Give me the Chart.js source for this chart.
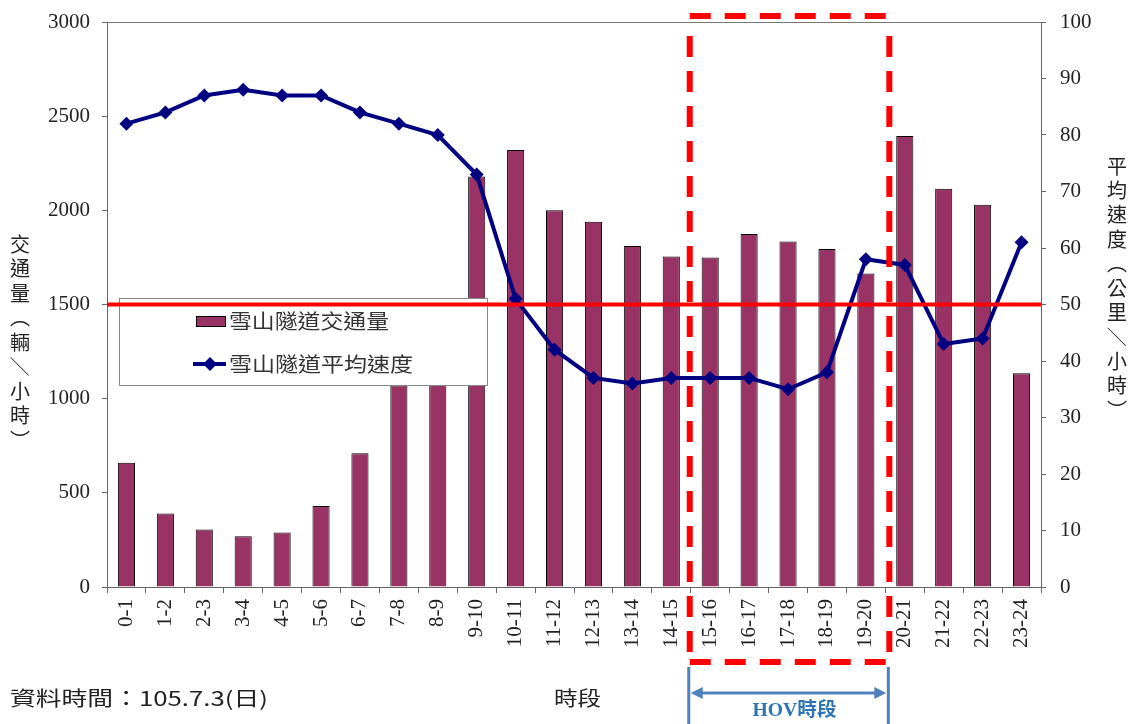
<!DOCTYPE html>
<html>
<head>
<meta charset="utf-8">
<script src="https://cdn.jsdelivr.net/npm/chart.js@4.4.1/dist/chart.umd.min.js"></script>
<style>
html,body{margin:0;padding:0;background:#fff;}
#wrap{width:1131px;height:724px;position:relative;}
</style>
</head>
<body>
<div id="wrap"><canvas id="c" width="1131" height="724"></canvas></div>
<script>
const categories = ['0-1','1-2','2-3','3-4','4-5','5-6','6-7','7-8','8-9','9-10','10-11','11-12','12-13','13-14','14-15','15-16','16-17','17-18','18-19','19-20','20-21','21-22','22-23','23-24'];
const trafficVolume = [660, 390, 305, 270, 290, 430, 710, 1070, 1450, 2180, 2320, 2000, 1940, 1810, 1755, 1750, 1875, 1835, 1795, 1665, 2395, 2115, 2030, 1135];
const avgSpeed = [82, 84, 87, 88, 87, 87, 84, 82, 80, 73, 51, 42, 37, 36, 37, 37, 37, 35, 38, 58, 57, 43, 44, 61];
const leftTicks = [0, 500, 1000, 1500, 2000, 2500, 3000];
const rightTicks = [0, 10, 20, 30, 40, 50, 60, 70, 80, 90, 100];
const volumeLabel = '雪山隧道交通量';
const speedLabel = '雪山隧道平均速度';
const leftTitle = '交通量(輛/小時)';
const rightTitle = '平均速度(公里/小時)';
const thresholdVolume = 1500;
const hovStartIndex = 15;   // 15-16
const hovEndIndex = 19;     // 19-20
const sourceNote = '資料時間：105.7.3(日)';
const xTitle = '時段';
const hovText = 'HOV時段';

const BAR = '#993366';
const NAVY = '#000080';
const CJK = '"Noto Sans CJK TC","Noto Sans CJK SC",sans-serif';
const SERIF = '"Liberation Serif","Noto Sans CJK TC",serif';

function fitText(ctx, text, x, y, width, font, color, align) {
  ctx.save();
  ctx.font = font;
  ctx.fillStyle = color;
  ctx.textBaseline = 'middle';
  ctx.textAlign = 'left';
  const w = ctx.measureText(text).width;
  const s = width / w;
  let x0 = x;
  if (align === 'center') x0 = x - width / 2;
  ctx.translate(x0, y);
  ctx.scale(s, 1);
  ctx.fillText(text, 0, 0);
  ctx.restore();
}

function drawVertical(ctx, text, x, yStart, step, font, color) {
  ctx.save();
  ctx.font = font;
  ctx.fillStyle = color;
  ctx.textAlign = 'center';
  ctx.textBaseline = 'middle';
  const map = { '(': '︵', ')': '︶' };
  [...text].forEach((ch, i) => {
    const y = yStart + i * step;
    if (ch === '/') {
      ctx.save();
      ctx.translate(x, y);
      ctx.rotate(Math.PI / 2);
      ctx.fillText('／', 0, 0);
      ctx.restore();
    } else {
      ctx.fillText(map[ch] || ch, x, y);
    }
  });
  ctx.restore();
}

const overlay = {
  id: 'overlay',
  afterDatasetsDraw(chart) {
    const ctx = chart.ctx;
    const ca = chart.chartArea;
    const y = chart.scales.y;

    ctx.save();
    ctx.strokeStyle = '#777';
    ctx.lineWidth = 1;
    ctx.beginPath();
    ctx.moveTo(ca.left, ca.top + 0.5);
    ctx.lineTo(ca.right, ca.top + 0.5);
    ctx.stroke();
    ctx.restore();

    const lx = 119, ly = 298, lw = 368, lh = 87;
    ctx.save();
    ctx.fillStyle = '#fff';
    ctx.fillRect(lx, ly, lw, lh);
    ctx.strokeStyle = '#888';
    ctx.lineWidth = 1;
    ctx.strokeRect(lx + 0.5, ly + 0.5, lw, lh);
    ctx.fillStyle = BAR;
    ctx.fillRect(196, 316, 29, 10);
    ctx.strokeStyle = '#000';
    ctx.strokeRect(196.5, 316.5, 29, 10);
    ctx.strokeStyle = NAVY;
    ctx.lineWidth = 4;
    ctx.beginPath();
    ctx.moveTo(193, 364);
    ctx.lineTo(226, 364);
    ctx.stroke();
    ctx.fillStyle = NAVY;
    ctx.beginPath();
    ctx.moveTo(210, 357); ctx.lineTo(217, 364); ctx.lineTo(210, 371); ctx.lineTo(203, 364);
    ctx.closePath();
    ctx.fill();
    ctx.restore();
    fitText(ctx, volumeLabel, 229, 321, 160, '20px ' + CJK, '#333');
    fitText(ctx, speedLabel, 229, 364, 184, '20px ' + CJK, '#333');

    const ty = y.getPixelForValue(thresholdVolume);
    ctx.save();
    ctx.strokeStyle = '#ff0000';
    ctx.lineWidth = 4;
    ctx.beginPath();
    ctx.moveTo(ca.left, ty);
    ctx.lineTo(ca.right, ty);
    ctx.stroke();
    ctx.restore();
  },
  afterDraw(chart) {
    const ctx = chart.ctx;
    const ca = chart.chartArea;
    const x = chart.scales.x;
    const x1 = x.getPixelForValue(hovStartIndex - 0.5) - 1;
    const x2 = x.getPixelForValue(hovEndIndex + 0.5) + 4;
    const top = ca.top - 6, bottom = ca.bottom + 75;

    ctx.save();
    ctx.strokeStyle = '#ff0000';
    ctx.lineWidth = 6;
    ctx.setLineDash([21, 14]);
    ctx.beginPath();
    ctx.moveTo(x1, top); ctx.lineTo(x2, top);
    ctx.stroke();
    ctx.beginPath();
    ctx.moveTo(x1, bottom); ctx.lineTo(x2, bottom);
    ctx.stroke();
    ctx.beginPath();
    ctx.lineDashOffset = -10;
    ctx.moveTo(x1, top + 10); ctx.lineTo(x1, bottom);
    ctx.moveTo(x2, top + 10); ctx.lineTo(x2, bottom);
    ctx.stroke();
    ctx.restore();

    const BLUE = '#4F81BD';
    const bl = x1 - 1, br = x2 - 1;
    const ay = 693;
    ctx.save();
    ctx.strokeStyle = BLUE;
    ctx.fillStyle = BLUE;
    ctx.lineWidth = 3;
    ctx.beginPath();
    ctx.moveTo(bl, 667); ctx.lineTo(bl, 724);
    ctx.moveTo(br, 667); ctx.lineTo(br, 724);
    ctx.moveTo(bl + 10, ay); ctx.lineTo(br - 10, ay);
    ctx.stroke();
    ctx.beginPath();
    ctx.moveTo(bl + 2, ay); ctx.lineTo(bl + 14, ay - 6); ctx.lineTo(bl + 14, ay + 6); ctx.closePath();
    ctx.fill();
    ctx.beginPath();
    ctx.moveTo(br - 2, ay); ctx.lineTo(br - 14, ay - 6); ctx.lineTo(br - 14, ay + 6); ctx.closePath();
    ctx.fill();
    ctx.restore();
    fitText(ctx, hovText, (bl + br) / 2 + 6, 711, 84, 'bold 19px ' + SERIF, '#2E75B6', 'center');

    drawVertical(ctx, leftTitle, 20, 244, 24.5, '20px ' + CJK, '#222');
    drawVertical(ctx, rightTitle, 1117, 166, 24.4, '20px ' + CJK, '#222');

    fitText(ctx, sourceNote, 10, 698, 258, '20px ' + CJK, '#222');
    fitText(ctx, xTitle, 554, 698, 47, '20px ' + CJK, '#222');
  }
};

function fixV(width) {
  return function (s) { s.width = width; s.paddingTop = 0; s.paddingBottom = 0; };
}

const ctx = document.getElementById('c').getContext('2d');
new Chart(ctx, {
  data: {
    labels: categories,
    datasets: [
      {
        type: 'line',
        label: speedLabel,
        data: avgSpeed,
        yAxisID: 'y1',
        order: 0,
        borderColor: NAVY,
        backgroundColor: NAVY,
        borderWidth: 4,
        pointStyle: 'rectRot',
        pointRadius: 7,
        pointBorderWidth: 0,
        pointBackgroundColor: NAVY,
        tension: 0
      },
      {
        type: 'bar',
        label: volumeLabel,
        data: trafficVolume,
        yAxisID: 'y',
        order: 1,
        backgroundColor: BAR,
        borderColor: '#000',
        borderWidth: 1,
        categoryPercentage: 1,
        barPercentage: 0.44
      }
    ]
  },
  options: {
    responsive: false,
    devicePixelRatio: 1,
    animation: false,
    layout: { padding: { top: 22, left: 0, right: 0, bottom: 0 } },
    plugins: { legend: { display: false }, tooltip: { enabled: false } },
    scales: {
      x: {
        offset: true,
        grid: { display: true, drawOnChartArea: false, drawTicks: true, tickLength: 6, color: '#666', offset: true },
        border: { display: true, color: '#666', width: 1 },
        ticks: { autoSkip: false, minRotation: 90, maxRotation: 90, padding: 6, color: '#222', font: { family: SERIF, size: 21 } },
        afterFit(s) { s.height = 137; s.paddingLeft = 0; s.paddingRight = 0; }
      },
      y: {
        position: 'left',
        min: 0, max: 3000,
        afterBuildTicks(s) { s.ticks = leftTicks.map(v => ({ value: v })); },
        grid: { display: true, drawOnChartArea: false, drawTicks: true, tickLength: 5, color: '#666' },
        border: { display: true, color: '#666', width: 1 },
        ticks: { padding: 12, color: '#222', font: { family: SERIF, size: 21 }, callback: v => String(v) },
        afterFit: fixV(107)
      },
      y1: {
        position: 'right',
        min: 0, max: 100,
        afterBuildTicks(s) { s.ticks = rightTicks.map(v => ({ value: v })); },
        grid: { display: true, drawOnChartArea: false, drawTicks: true, tickLength: 5, color: '#666' },
        border: { display: true, color: '#666', width: 1 },
        ticks: { padding: 14, color: '#222', font: { family: SERIF, size: 21 }, callback: v => String(v) },
        afterFit: fixV(90)
      }
    }
  },
  plugins: [overlay]
});
</script>
</body>
</html>
